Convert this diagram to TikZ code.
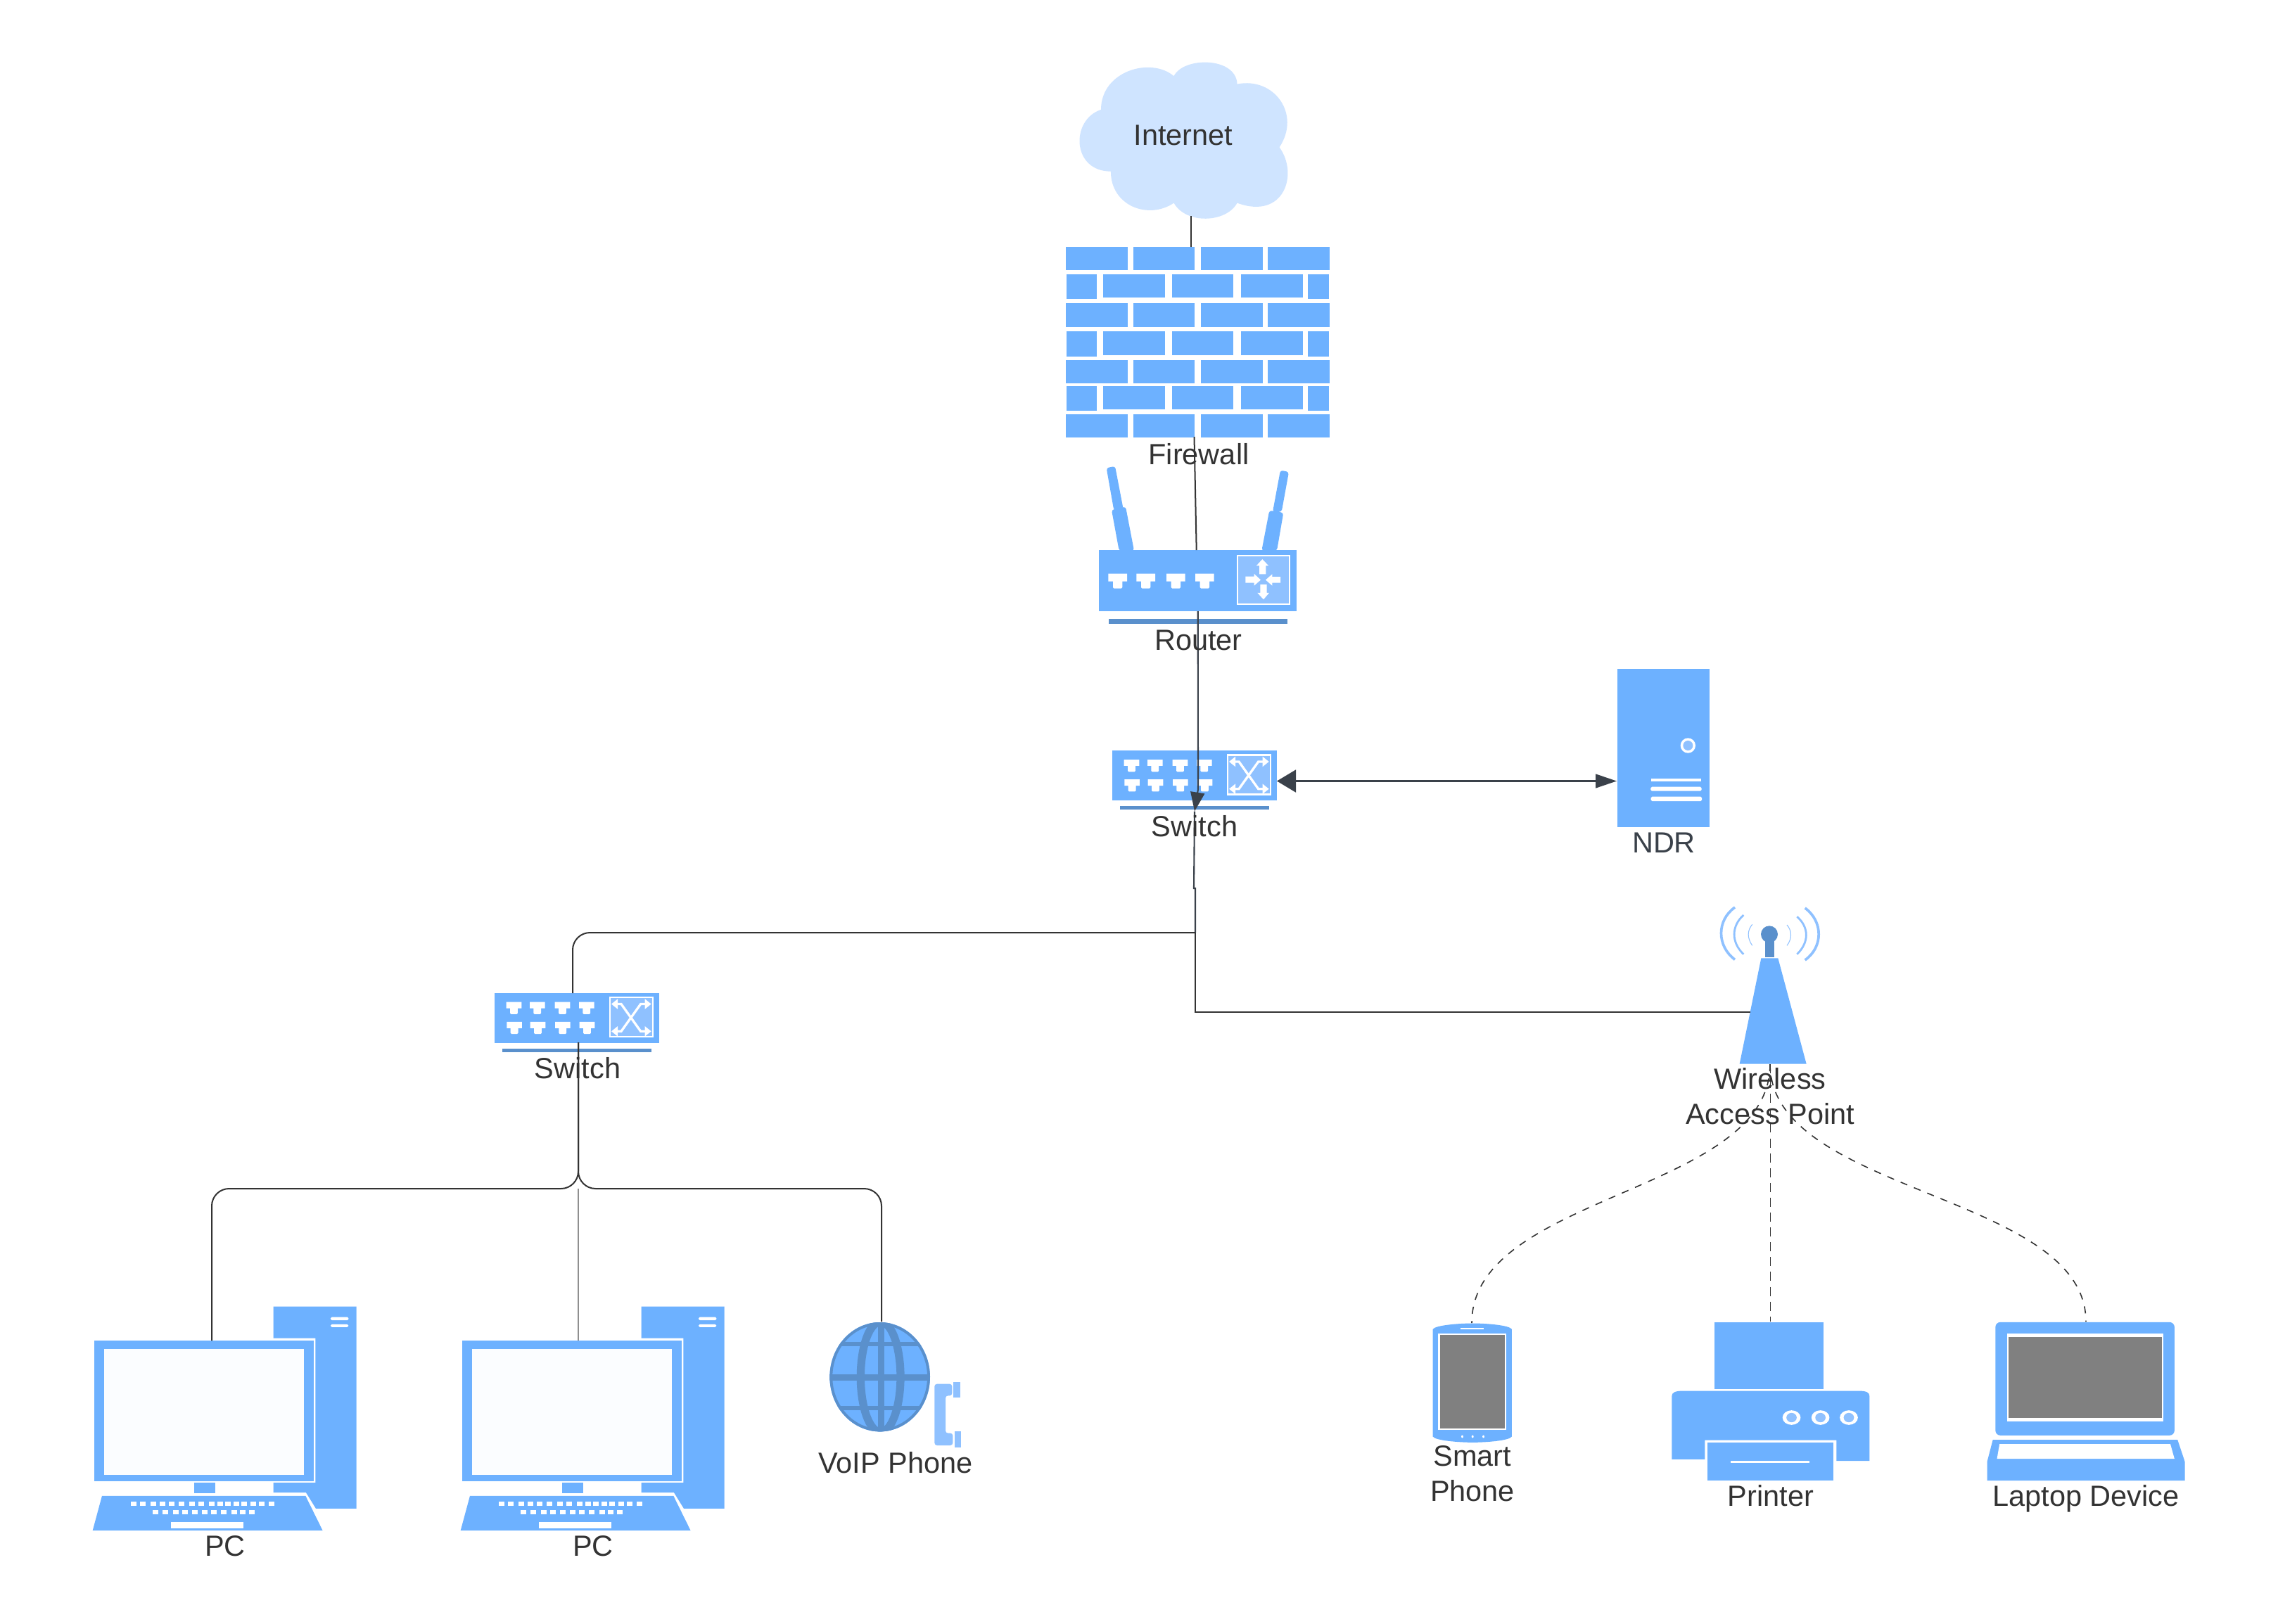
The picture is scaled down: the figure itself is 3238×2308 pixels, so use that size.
\documentclass[tikz,border=0pt]{standalone}
\usepackage{fontspec}
\setmainfont{Liberation Sans}
\usetikzlibrary{arrows.meta}
\definecolor{iconblue}{HTML}{6DB1FF}
\definecolor{icondark}{HTML}{5A90CC}
\definecolor{iconlight}{HTML}{8FC1FF}
\definecolor{cloudblue}{HTML}{CFE4FF}
\definecolor{linegrey}{HTML}{333333}
\definecolor{arrowgrey}{HTML}{3A414A}
\definecolor{labelgrey}{HTML}{333333}
\definecolor{screengrey}{HTML}{808080}
\definecolor{screenwhite}{HTML}{FBFDFF}
\newcommand{\tport}[3]{\fill[white,shift={(#1,#2)},scale=#3] (0,0)--(80,0)--(80,27)--(60,27)--(60,48)--(55,52)--(25,52)--(20,48)--(20,27)--(0,27)--cycle;}
\newcommand{\brick}[3]{\fill[iconblue] (#1,#3) rectangle (#2,#3+82);}
\newcommand{\brickrowA}[1]{\brick{323}{568}{#1}\brick{590}{835}{#1}\brick{860}{1105}{#1}\brick{1127}{1373}{#1}}
\newcommand{\brickrowB}[1]{\fill[iconblue] (325,#1) rectangle (445,#1+86);\brick{470}{716}{#1}\brick{744}{989}{#1}\brick{1019}{1265}{#1}\fill[iconblue] (1285,#1) rectangle (1370,#1+86);}
\tikzset{
  lbl/.style={inner sep=0pt,outer sep=0pt,text=labelgrey,font=\fontsize{11.8}{14.2}\selectfont,anchor=base},
  lblml/.style={inner sep=0pt,outer sep=0pt,text=labelgrey,font=\fontsize{11.8}{14.2}\selectfont,align=center,anchor=center},
  wire/.style={draw=linegrey,line width=0.57pt},
  wirec/.style={wire,rounded corners=7pt},
  wirethin/.style={draw=linegrey!55,line width=0.3pt},
  wiredark/.style={draw=arrowgrey,line width=0.6pt},
  wifi/.style={draw=linegrey,line width=0.45pt,dash pattern=on 2.9pt off 2.9pt},
  wifimid/.style={draw=linegrey,line width=0.28pt,dash pattern=on 3.7pt off 2.3pt},
  switchicon/.pic={
    \begin{scope}[xscale=1/3,yscale=1/2.45,shift={(-243,-1047)}]
      \fill[iconblue] (243,1047) rectangle (945,1220);
      \fill[icondark] (276,1240) rectangle (912,1252);
      \fill[iconlight,draw=white,line width=0.6pt] (735,1062) rectangle (918,1199);
      \foreach \px in {293,393,500,603} {\tport{\px}{1078}{0.81}}
      \foreach \px in {295,395,501,605} {\tport{\px}{1147}{0.81}}
      \draw[white,line width=0.95pt,{Triangle[length=2.6pt,width=4pt]}-{Triangle[length=2.6pt,width=4pt]}] (741,1085)--(783,1085)--(866,1180)--(911,1180);
      \draw[white,line width=0.95pt,{Triangle[length=2.6pt,width=4pt]}-{Triangle[length=2.6pt,width=4pt]}] (741,1180)--(783,1180)--(866,1085)--(911,1085);
    \end{scope}
  },
  pcicon/.pic={
    \begin{scope}[xscale=1/3,yscale=1/3]
      \fill[iconblue] (866,108)--(1220,108)--(1220,970)--(1047,970)--(1005,902)--(866,902)--(866,860)--(1045,860)--(1045,243)--(866,243)--cycle;
      \fill[iconblue] (101,254) rectangle (1038,852);
      \fill[screenwhite] (144,290) rectangle (996,825);
      \fill[iconblue] (528,860) rectangle (617,905);
      \fill[iconblue] (135,916)--(1003,916)--(1076,1064)--(95,1064)--cycle;
      \foreach \px in {257,298,342,381,420,463,506,547,591,628,660,696,729,768,805,847} {\fill[white] (\px,940) rectangle (\px+24,958);}
      \foreach \px in {351,393,438,477,520,562,601,642,686,724,761} {\fill[white] (\px,975) rectangle (\px+24,993);}
      \fill[white] (428,1027) rectangle (738,1055);
      \fill[white,rounded corners=0.5pt] (1110,153) rectangle (1186,167);
      \fill[white,rounded corners=0.5pt] (1110,184) rectangle (1186,196);
    \end{scope}
  }
}
\begin{document}
\begin{tikzpicture}[x=0.01cm,y=-0.01cm]
\useasboundingbox (0,0) rectangle (3238,2308);
\fill[white] (0,0) rectangle (3238,2308);

% cloud
\begin{scope}[shift={(1400,60)},xscale=1/2.8,yscale=1/2.45]
  \fill[cloudblue] (462,235) .. controls (462,100) and (660,50) .. (752,118)
    .. controls (790,50) and (1000,50) .. (1004,146)
    .. controls (1150,120) and (1260,250) .. (1172,366)
    .. controls (1250,460) and (1190,620) .. (1004,560)
    .. controls (960,630) and (800,635) .. (752,560)
    .. controls (650,620) and (501,570) .. (501,450)
    .. controls (345,450) and (340,270) .. (462,235) -- cycle;
  % firewall
  \foreach \ry in {712,910,1107,1296} {\brickrowA{\ry}}
  \foreach \ry in {808,1008,1198} {\brickrowB{\ry}}
\end{scope}

% router
\begin{scope}[shift={(1500,640)},xscale=1/3,yscale=1/2.45]
  \fill[iconblue,rounded corners=1pt] (218,62)--(255,56)--(290,205)--(250,210)--cycle;
  \fill[iconblue,rounded corners=1pt] (240,208)--(300,197)--(336,350)--(272,350)--cycle;
  \fill[iconblue,rounded corners=1pt] (960,70)--(996,76)--(965,215)--(927,215)--cycle;
  \fill[iconblue,rounded corners=1pt] (913,210)--(973,218)--(945,350)--(880,350)--cycle;
  \fill[iconblue] (186,348) rectangle (1030,562);
  \fill[icondark] (227,587) rectangle (990,604);
  \fill[iconlight,draw=white,line width=0.6pt] (777,368) rectangle (1000,537);
  \foreach \px in {226,346,474,597} {\tport{\px}{430}{1}}
  \fill[white] (883,380)--(910,403)--(898,403)--(898,432)--(870,432)--(870,403)--(857,403)--cycle;
  \fill[white] (876,452)--(848,472)--(848,462)--(811,462)--(811,440)--(848,440)--(848,431)--cycle;
  \fill[white] (897,452)--(925,432)--(925,441)--(960,441)--(960,462)--(925,462)--(925,472)--cycle;
  \fill[white] (888,520)--(862,497)--(874,497)--(874,468)--(902,468)--(902,497)--(912,497)--cycle;
\end{scope}

% switches
\pic (swa) at (1581,1067.4) {switchicon};
\pic (swb) at (703,1412) {switchicon};

% NDR
\begin{scope}[shift={(2260,930)},xscale=1/3,yscale=1/3]
  \fill[iconblue] (117,62) rectangle (511,737);
  \fill[white] (418,390) ellipse (32 and 32);
  \fill[iconlight] (418,390) ellipse (21 and 21);
  \fill[white] (261,531) rectangle (474,543);
  \fill[white,rounded corners=0.5pt] (259,566) rectangle (476,584);
  \fill[white,rounded corners=0.5pt] (260,608) rectangle (477,627);
\end{scope}

% access point
\begin{scope}[shift={(2300,1260)},xscale=1/3,yscale=1/3]
  \fill[iconblue] (610,307)--(682,307)--(803,758)--(518,758)--cycle;
  \fill[icondark] (627,235) rectangle (665,302);
  \fill[icondark] (645,205) ellipse (36 and 36);
  \draw[iconlight,line width=1.05pt] (498,90) .. controls (420,145) and (420,255) .. (498,313);
  \draw[iconlight,line width=0.8pt] (535,123) .. controls (482,170) and (482,240) .. (535,290);
  \draw[iconlight,line width=0.3pt] (572,163) .. controls (550,190) and (550,220) .. (572,253);
  \draw[iconlight,line width=1.05pt] (797,93) .. controls (875,150) and (875,260) .. (797,315);
  \draw[iconlight,line width=0.8pt] (763,130) .. controls (815,175) and (815,240) .. (763,290);
  \draw[iconlight,line width=0.3pt] (720,165) .. controls (742,190) and (742,225) .. (720,253);
\end{scope}

% PCs
\pic (pca) at (100,1821.5) {pcicon};
\pic (pcb) at (623,1821.5) {pcicon};

% VoIP
\begin{scope}[shift={(1120,1841)},xscale=1/3,yscale=1/3]
  \fill[iconblue] (392,350) ellipse (214 and 233);
  \begin{scope}
    \clip (392,350) ellipse (214 and 233);
    \draw[icondark,line width=3.2pt] (395,350) ellipse (85 and 235);
    \fill[icondark] (385,110) rectangle (411,590);
    \fill[icondark] (170,338) rectangle (615,366);
    \fill[icondark] (170,201) rectangle (615,219);
    \fill[icondark] (170,474) rectangle (615,492);
  \end{scope}
  \draw[icondark,line width=1.1pt] (392,350) ellipse (208 and 227);
  \fill[iconlight,rounded corners=1pt] (625,380)--(700,380)--(700,430)--(672,430)--(672,590)--(703,590)--(703,642)--(625,642)--cycle;
  \fill[iconlight] (705,371) rectangle (736,437);
  \fill[iconlight] (710,582) rectangle (739,650);
\end{scope}

% phone, printer, laptop
\begin{scope}[shift={(2000,1841.5)},xscale=1/1.363,yscale=1/3]
  \fill[iconblue] (50,145) .. controls (55,128) and (100,120) .. (127,120) .. controls (155,120) and (198,128) .. (203,145)
    -- (203,603) .. controls (198,620) and (155,628) .. (127,628) .. controls (100,628) and (55,620) .. (50,603) -- cycle;
  \fill[white] (60,162) rectangle (192,575);
  \fill[screengrey] (64,168) rectangle (190,567);
  \fill[white] (103,139) rectangle (149,144);
  \foreach \px in {107,127,148} {\fill[white] (\px,603) ellipse (2 and 6);}
  % printer
  \fill[iconblue] (595,115) rectangle (807,399);
  \fill[iconblue] (513,700)--(513,430) .. controls (513,415) and (520,408) .. (535,408) -- (875,408) .. controls (890,408) and (896,415) .. (896,430) -- (896,707)--(832,707)--(832,618)--(577,618)--(577,700)--cycle;
  \fill[iconblue] (582,628) rectangle (826,791);
  \fill[white] (627,706) rectangle (780,714);
  \foreach \px in {745,801,856} {\fill[white] (\px,522) ellipse (17.5 and 31); \fill[iconlight] (\px,522) ellipse (10 and 20);}
  % laptop
  \fill[iconblue,rounded corners=2pt] (1140,115) rectangle (1487,598);
  \fill[white] (1163,162) rectangle (1466,538);
  \fill[screengrey] (1166,177) rectangle (1463,523);
  \fill[iconblue] (1135,617)--(1493,617)--(1507,710)--(1507,791)--(1124,791)--(1124,710)--cycle;
  \fill[white] (1148,635)--(1479,635)--(1487,698)--(1143,698)--cycle;
\end{scope}

% connector ends
\coordinate (internetS) at (1693,307);
\coordinate (firewallN) at (1693,351);
\coordinate (firewallS) at (1697.5,621);
\coordinate (routerN) at (1700.7,782);
\coordinate (routerS) at (1702.7,869);
\coordinate (switchAbend) at (1703,1122);
\coordinate (switchAin) at (1698,1153.5);
\coordinate (switchAE) at (1815,1110.5);
\coordinate (ndrW) at (2298,1110.5);
\coordinate (stepA) at (1697,1263);
\coordinate (stepB) at (1699,1263);
\coordinate (branchL) at (1699,1326);
\coordinate (cornerL) at (814,1326);
\coordinate (switchBN) at (814,1412);
\coordinate (cornerR) at (1699,1438.5);
\coordinate (apW) at (2488,1438.5);
\coordinate (switchBS) at (822,1482);
\coordinate (branchB) at (822,1690);
\coordinate (cornerA) at (301,1690);
\coordinate (pcaN) at (301,1906);
\coordinate (pcbN) at (822,1906);
\coordinate (cornerC) at (1253,1690);
\coordinate (voipN) at (1253,1879);
\coordinate (apS) at (2516,1513);
\coordinate (phoneN) at (2092,1881);
\coordinate (printerN) at (2516,1879);
\coordinate (laptopN) at (2965,1879);

% connectors
\draw[wire] (internetS) -- (firewallN);
\draw[wire] (firewallS) -- (routerN);
\draw[wiredark,-{Triangle[length=7.7pt,width=5.7pt]}] (routerS) -- (switchAbend) -- (switchAin);
\draw[wiredark,{Triangle[length=7.7pt,width=9.1pt]}-{Triangle[length=8.5pt,width=5.6pt]}] (switchAE) -- (ndrW);
\draw[wiredark] (switchAin) -- (stepA) -- (stepB) -- (branchL);
\draw[wirec] (branchL) -- (cornerL) -- (switchBN);
\draw[wire] (branchL) -- (cornerR) -- (apW);
\draw[wirec] (switchBS) -- (branchB) -- (cornerA) -- (pcaN);
\draw[wirec] (switchBS) -- (branchB) -- (cornerC) -- (voipN);
\draw[wirethin] (branchB) -- (pcbN);
\draw[wifi] (apS) .. controls (2516,1697) and (2092,1697) .. (phoneN);
\draw[wifimid] (apS) -- (printerN);
\draw[wifi] (apS) .. controls (2516,1697) and (2965,1697) .. (laptopN);

% labels
\node[lbl] (internet) at (1682,206) {Internet};
\node[lbl] (firewall) at (1704,660) {Firewall};
\node[lbl] (router) at (1703.5,924) {Router};
\node[lbl] (switcha) at (1698,1189) {Switch};
\node[lbl,text=arrowgrey] (ndr) at (2365,1212.5) {NDR};
\node[lbl] (switchb) at (821,1533) {Switch};
\node[lblml] (ap) at (2516,1559) {Wireless\\Access Point};
\node[lbl] (pca) at (320,2212) {PC};
\node[lbl] (pcb) at (843,2212) {PC};
\node[lbl] (voip) at (1273,2094) {VoIP Phone};
\node[lblml] (phone) at (2093,2095) {Smart\\Phone};
\node[lbl] (printer) at (2517,2141) {Printer};
\node[lbl] (laptop) at (2965,2141) {Laptop Device};
\end{tikzpicture}
\end{document}
